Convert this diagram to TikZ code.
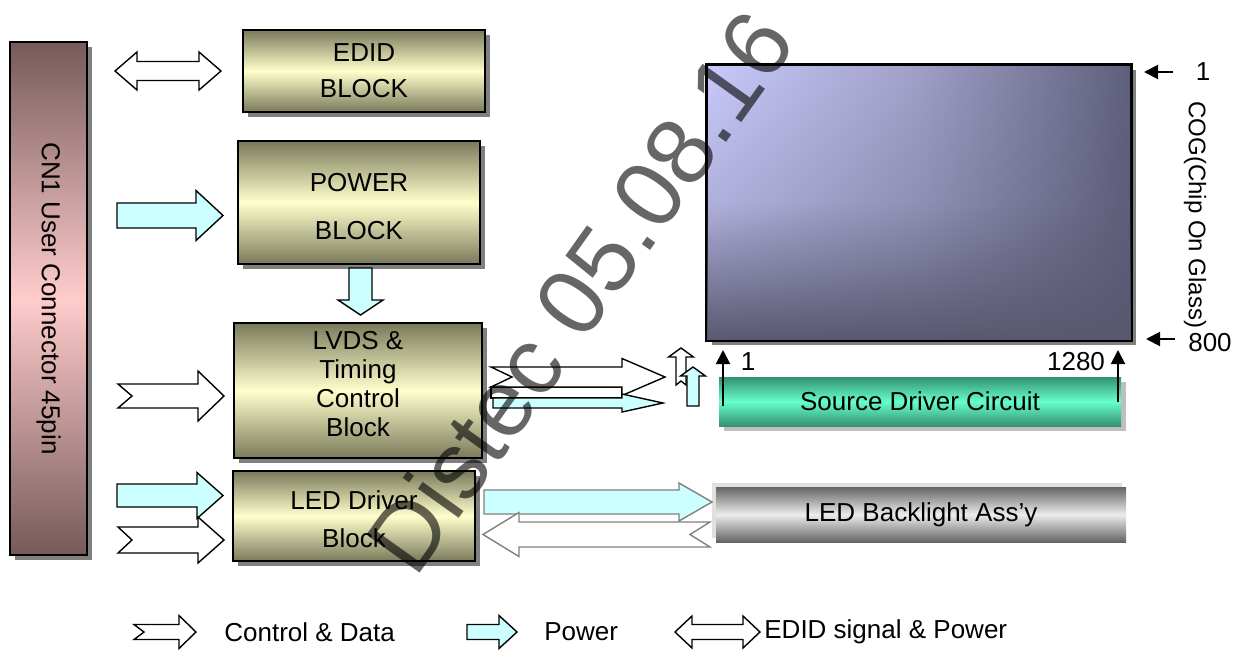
\documentclass[tikz,border=0pt]{standalone}
\usepackage{fontspec}
\setmainfont{Liberation Sans}
\usetikzlibrary{positioning,shadows,arrows.meta,fadings}
\definecolor{blkdark}{RGB}{122,122,92}
\definecolor{blklight}{RGB}{255,255,204}
\definecolor{cndark}{RGB}{118,90,90}
\definecolor{cnlight}{RGB}{255,204,204}
\definecolor{pwrcyan}{RGB}{204,255,255}
\definecolor{srcdark}{RGB}{52,145,112}
\definecolor{srclight}{RGB}{102,255,204}
\definecolor{bldark}{RGB}{100,100,100}
\definecolor{bllight}{RGB}{236,236,236}
\definecolor{panelA}{RGB}{202,202,252}
\definecolor{panelB}{RGB}{160,160,200}
\definecolor{panelC}{RGB}{95,95,125}
\definecolor{paneldark}{RGB}{88,88,112}
\tikzfading[name=panelfade, top color=transparent!100, bottom color=transparent!0, middle color=transparent!78]
\tikzset{
  shadowed/.style={drop shadow={shadow xshift=2.5pt, shadow yshift=-2.5pt, fill=black!50, opacity=1}},
  blk/.style={draw, line width=1pt, inner sep=0pt, align=center, top color=blkdark, bottom color=blkdark, middle color=blklight, shadowed},
  cnbar/.style={draw, line width=1pt, inner sep=0pt, top color=cndark, bottom color=cndark, middle color=cnlight, shadowed},
  blktxt/.style={align=center, inner sep=0pt},
  ctl/.style={draw=black, fill=white, line width=0.7pt},
  pwr/.style={draw=black, fill=pwrcyan, line width=0.7pt},
  ptr/.style={-{Triangle[length=7pt,width=7pt]}, line width=1pt},
  pics/fatarrow/.style n args={5}{code={
    \draw[pic actions] (0,-#2) -- (#1-#4,-#2) -- (#1-#4,-#3) -- (#1,0) -- (#1-#4,#3) -- (#1-#4,#2) -- (0,#2) -- (#5,0) -- cycle;
  }},
  pics/dblarrow/.style n args={4}{code={
    \draw[pic actions] (0,0) -- (#4,-#3) -- (#4,-#2) -- (#1-#4,-#2) -- (#1-#4,-#3) -- (#1,0) -- (#1-#4,#3) -- (#1-#4,#2) -- (#4,#2) -- (#4,#3) -- cycle;
  }}
}

\begin{document}
\begin{tikzpicture}[x=0.5pt,y=-0.5pt,font=\fontsize{13}{14.5}\selectfont]
	\useasboundingbox (0,0) rectangle (1243,649);

	% connector bar
	\node[cnbar, minimum width=38.5pt, minimum height=256.5pt] (cn1) at (48.5,298.5) {};
	\node[rotate=-90] (cn1txt) at (cn1.center) {CN1 User Connector 45pin};

	% blocks
	\node[blk, minimum width=121pt, minimum height=41pt] (edid) at (364,71) {EDID\\[3.5pt]BLOCK};
	\node[blk, minimum width=121pt, minimum height=61.5pt] (power) at (359,202.5) {};
	\node[blktxt] (powertxt) at ([yshift=-2pt]power.center) {POWER\\[9.5pt]BLOCK};
	\node[blk, minimum width=124pt, minimum height=67.5pt] (lvds) at (358,390.5) {};
	\node[blktxt] (lvdstxt) at ([yshift=3pt]lvds.center) {LVDS \&\\Timing\\Control\\Block};
	\node[blk, minimum width=121pt, minimum height=45pt] (leddrv) at (354,516) {};
	\node[blktxt] (leddrvtxt) at ([yshift=-1.5pt]leddrv.center) {LED Driver\\[4.5pt]Block};

	% panel and driver parts
	\node[draw, line width=1pt, left color=panelA, right color=panelC, middle color=panelB, inner sep=0pt, minimum width=212pt, minimum height=137.5pt, shadowed] (panel) at (919,202.5) {};
	\fill[paneldark, path fading=panelfade] (panel.north west) rectangle (panel.south east);
	\draw[line width=1pt] (panel.north west) rectangle (panel.south east);
	\node[inner sep=0pt, minimum width=201pt, minimum height=24.5pt, top color=srcdark, bottom color=srcdark, middle color=srclight,
		drop shadow={shadow xshift=2.5pt, shadow yshift=-2.5pt, fill=black!25, opacity=1}] (srcdrv) at (920,401.5) {Source Driver Circuit};
	\fill[black!12] (712,483) rectangle (1122,538);
	\node[inner sep=0pt, minimum width=205pt, minimum height=27.5pt, top color=bldark, bottom color=bldark, middle color=bllight] (backlight) at (921,514.5) {LED Backlight Ass’y};

	% pixel numbering
	\node (rowfirst) at (1203,72) {1};
	\node (rowlast) at (1210,343) {800};
	\node[rotate=-90, font=\fontsize{12}{14}\selectfont] (cog) at (1195,215) {COG(Chip On Glass)};
	\node (colfirst) at (748,362) {1};
	\node (collast) at (1076,362) {1280};
	\draw[ptr] ([xshift=-8pt]rowfirst.west) -- ([xshift=6pt]panel.east |- rowfirst.west);
	\draw[ptr] ([xshift=-3pt,yshift=2pt]rowlast.west) -- ([xshift=7pt,yshift=2pt]panel.east |- rowlast.west);
	\coordinate (c1tail) at (723,406);
	\coordinate (c1tip) at (723,350);
	\coordinate (c2tail) at (1118,402);
	\coordinate (c2tip) at (1118,350);
	\draw[ptr] (c1tail) -- (c1tip);
	\draw[ptr] (c2tail) -- (c2tip);

	% block arrows from the connector
	\pic[ctl] at (115,71) {dblarrow={106}{9.5}{19}{22}};
	\pic[pwr] at (117,215.5) {fatarrow={106}{12.5}{25}{27}{0}};
	\pic[pwr, rotate=-90] at (360.5,268) {fatarrow={47}{11.5}{22.5}{15}{0}};
	\pic[ctl] at (118,396) {fatarrow={106}{12}{25}{26}{14}};
	\pic[pwr] at (117,495.5) {fatarrow={106}{11.5}{23}{26}{0}};
	\pic[ctl] at (118,540) {fatarrow={106}{13}{23}{26}{14}};

	% arrows to the panel
	\draw[ctl] (491,387) rectangle (622,398);
	\pic[ctl] at (491,377) {fatarrow={174}{10}{18.5}{43}{21}};
	\pic[pwr] at (493,403) {fatarrow={170}{5}{9}{41}{0}};
	\pic[ctl, rotate=90] at (681,385) {fatarrow={37}{5}{12.5}{9}{4}};
	\pic[pwr, rotate=90] at (693,406) {fatarrow={39}{6}{12.5}{9}{0}};

	% backlight arrows
	\pic[pwr, draw=gray] at (484,502) {fatarrow={228}{12}{19}{33}{0}};
	\pic[ctl, draw=gray, rotate=180] at (710,534.5) {fatarrow={227}{12.5}{22}{36}{20}};

	% legend
	\pic[ctl] at (134,632) {fatarrow={62}{7.5}{16.5}{17}{10}};
	\coordinate (legctl) at (196,632);
	\node[right=14pt of legctl, inner sep=0pt] (legctltxt) {Control \& Data};
	\pic[pwr] at (467,632) {fatarrow={50}{7.5}{16.5}{18}{0}};
	\coordinate (legpwr) at (517,632);
	\node[right=13.5pt of legpwr, inner sep=0pt] (legpwrtxt) {Power};
	\pic[ctl] at (675,632) {dblarrow={85}{7.5}{16}{17}};
	\coordinate (legedid) at (760,632);
	\node[right=2pt of legedid, inner sep=0pt] (legedidtxt) {EDID signal \& Power};

	% watermark
	\node[rotate=54.5, anchor=base, inner sep=0pt, text=black, text opacity=0.6, font=\fontsize{47.5}{50}\selectfont] (stamp) at (607,311) {Distec 05.08.16};
\end{tikzpicture}
\end{document}
